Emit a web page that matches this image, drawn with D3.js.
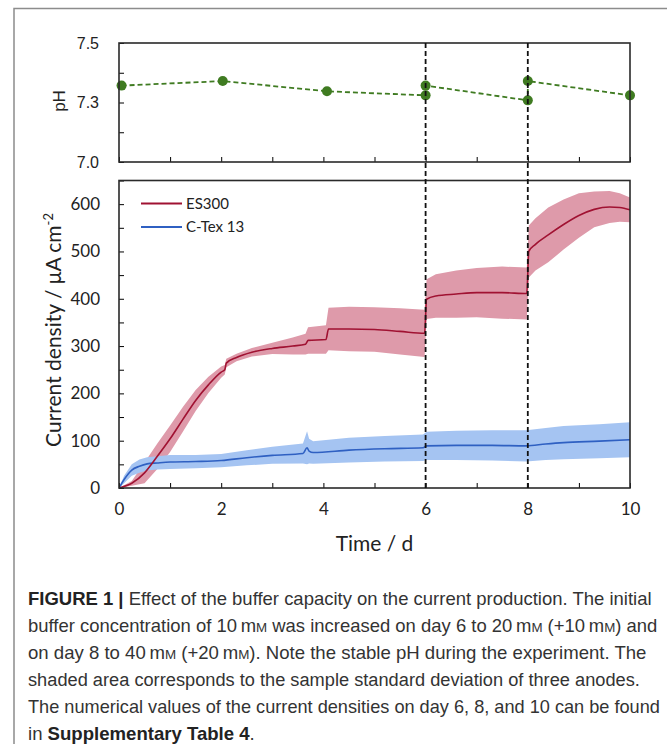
<!DOCTYPE html>
<html>
<head>
<meta charset="utf-8">
<script src="https://cdn.jsdelivr.net/npm/d3@7"></script>
<style>
body { margin: 0; background: #fff; }
</style>
</head>
<body>
<div id="vis"></div>
<script>
const FRAME_WIDTH = 667;
const FRAME_HEIGHT = 744;
const PLOT = {left: 119, right: 630};
const PH_BOX = {top: 43, bottom: 162};
const CUR_BOX = {top: 180.5, bottom: 488};

// pH measurements (day 6 and 8 have a value before and after the buffer addition)
const phDays = [0.05, 2.03, 4.07, 6, 6, 8, 8, 10];
const phValues = [7.321, 7.340, 7.297, 7.280, 7.321, 7.259, 7.340, 7.280];
const phTicks = [7.0, 7.125, 7.25, 7.375, 7.5];
const phTickLabels = ["7.0", "", "7.3", "", "7.5"];

// ES300 mean current density and standard deviation
const esDays = [0, 0.25, 0.5, 0.75, 1.0, 1.25, 1.5, 1.75, 2.0, 2.07, 2.1, 2.3, 2.6, 3.0, 3.4, 3.65, 3.7, 4.05, 4.1, 4.5, 5.0, 5.5, 5.98, 6.02, 6.2, 6.6, 7.0, 7.5, 7.98, 8.02, 8.15, 8.4, 8.7, 9.0, 9.3, 9.6, 9.8, 10];
const esMean = [0, 10, 32, 67, 104, 145, 185, 218, 245, 250, 264, 276, 287, 295, 300, 304, 312, 314, 336, 336, 335, 331, 327, 399, 406, 410, 413, 413, 411, 500, 515, 535, 557, 576, 589, 594, 593, 588];
const esSd = [0, 5, 22, 27, 28, 26, 22, 17, 12, 10, 9, 8, 9, 12, 18, 22, 28, 30, 45, 47, 47, 49, 50, 42, 46, 50, 52, 55, 55, 55, 55, 58, 53, 47, 38, 34, 30, 26];

// C-Tex 13 mean current density and standard deviation
const ctDays = [0, 0.1, 0.25, 0.4, 0.55, 0.75, 1.0, 1.5, 2.0, 2.5, 3.0, 3.6, 3.68, 3.72, 3.8, 4.5, 5.2, 5.95, 6.02, 6.6, 7.3, 7.97, 8.35, 8.7, 9.4, 10];
const ctMean = [0, 18, 38, 46, 51, 53, 55, 56, 58, 64, 69, 73, 85, 78, 75, 80, 83, 85, 89, 90, 90, 89, 93, 96, 99, 102];
const ctSd = [0, 8, 12, 14, 14, 14, 15, 14, 14, 16, 18, 21, 35, 26, 24, 26, 27, 28, 30, 31, 32, 33, 34, 35, 36, 37];

const bufferDays = [6, 8];
const dayTicks = d3.range(0, 11, 1);
const currentTicks = d3.range(0, 651, 50);
const seriesNames = ["ES300", "C-Tex 13"];
const seriesColors = ["#a01232", "#2f60c2"];
const bandColors = ["#de9aaa", "#a5c4f2"];

const SVG = d3.select("#vis")
	.append("svg")
		.attr("width", FRAME_WIDTH)
		.attr("height", FRAME_HEIGHT);

// outer gray frame (cut at the right and bottom)
SVG.append("path")
	.attr("d", "M14,744 L14,8.5 L667,8.5")
	.attr("fill", "none")
	.attr("stroke", "#8c8c8c")
	.attr("stroke-width", 1.5);

const X_SCALE = d3.scaleLinear().domain([0, 10]).range([PLOT.left, PLOT.right]);
const Y_PH = d3.scaleLinear().domain([7.0, 7.5]).range([PH_BOX.bottom, PH_BOX.top]);
const Y_CUR = d3.scaleLinear().domain([0, 650]).range([CUR_BOX.bottom, CUR_BOX.top]);

//---------- pH panel ----------
const PH = SVG.append("g");

PH.append("g")
	.attr("transform", "translate(" + PLOT.left + ",0)")
	.call(d3.axisLeft(Y_PH).tickValues(phTicks).tickSize(-5).tickPadding(20)
		.tickFormat((d, i) => phTickLabels[i]))
	.call(g => g.select(".domain").remove())
	.call(g => g.selectAll("text")
		.attr("font-family", "'Liberation Sans', Arial, sans-serif")
		.attr("font-size", 16)
		.attr("fill", "#222"));

PH.append("g")
	.attr("transform", "translate(0," + PH_BOX.bottom + ")")
	.call(d3.axisBottom(X_SCALE).tickValues(dayTicks).tickSize(-5).tickFormat(""))
	.call(g => g.select(".domain").remove());

PH.append("text")
	.attr("transform", "translate(65,101) rotate(-90)")
	.attr("text-anchor", "middle")
	.attr("font-family", "'Liberation Sans', Arial, sans-serif")
	.attr("font-size", 17)
	.attr("fill", "#222")
	.text("pH");

const phLine = d3.line()
	.x((d, i) => X_SCALE(phDays[i]))
	.y((d) => Y_PH(d));

PH.append("path")
	.attr("d", phLine(phValues))
	.attr("fill", "none")
	.attr("stroke", "#3f7b21")
	.attr("stroke-width", 1.8)
	.attr("stroke-dasharray", "5,3");

PH.selectAll(".ph-point")
	.data(phValues)
	.enter()
	.append("circle")
		.attr("class", "ph-point")
		.attr("cx", (d, i) => X_SCALE(phDays[i]))
		.attr("cy", (d) => Y_PH(d))
		.attr("r", 5)
		.attr("fill", "#3f7b21");

//---------- current density panel ----------
const CUR = SVG.append("g");

SVG.append("clipPath")
	.attr("id", "curClip")
	.append("rect")
		.attr("x", PLOT.left)
		.attr("y", CUR_BOX.top)
		.attr("width", PLOT.right - PLOT.left)
		.attr("height", CUR_BOX.bottom - CUR_BOX.top);

const series = [
	{days: esDays, mean: esMean, sd: esSd},
	{days: ctDays, mean: ctMean, sd: ctSd}
];

const band = d3.area()
	.x((d) => X_SCALE(d.t))
	.y0((d) => Y_CUR(d.m - d.s))
	.y1((d) => Y_CUR(d.m + d.s));

const meanLine = d3.line()
	.x((d) => X_SCALE(d.t))
	.y((d) => Y_CUR(d.m))
	.curve(d3.curveMonotoneX);

const rows = series.map((s) => s.days.map((t, i) => ({t: t, m: s.mean[i], s: s.sd[i]})));

const PLOTTED = CUR.append("g").attr("clip-path", "url(#curClip)");

PLOTTED.selectAll(".band")
	.data(rows)
	.enter()
	.append("path")
		.attr("class", "band")
		.attr("d", (d) => band(d))
		.attr("fill", (d, i) => bandColors[i]);

PLOTTED.selectAll(".mean")
	.data(rows.slice().reverse())
	.enter()
	.append("path")
		.attr("class", "mean")
		.attr("d", (d) => meanLine(d))
		.attr("fill", "none")
		.attr("stroke", (d, i) => seriesColors[1 - i])
		.attr("stroke-width", 1.6);

CUR.append("g")
	.attr("transform", "translate(" + PLOT.left + ",0)")
	.call(d3.axisLeft(Y_CUR).tickValues(currentTicks).tickSize(-5).tickPadding(19)
		.tickFormat((d) => d % 100 === 0 ? d : ""))
	.call(g => g.select(".domain").remove())
	.call(g => g.selectAll("text")
		.attr("font-family", "Lato, 'Open Sans', sans-serif")
		.attr("font-size", 17)
		.attr("fill", "#222"));

CUR.append("g")
	.attr("transform", "translate(0," + CUR_BOX.bottom + ")")
	.call(d3.axisBottom(X_SCALE).tickValues(dayTicks).tickSize(-5).tickPadding(15)
		.tickFormat((d) => d % 2 === 0 ? d : ""))
	.call(g => g.select(".domain").remove())
	.call(g => g.selectAll("text")
		.attr("font-family", "Lato, 'Open Sans', sans-serif")
		.attr("font-size", 17)
		.attr("fill", "#222"));

CUR.append("text")
	.attr("x", X_SCALE(5))
	.attr("y", 551)
	.attr("text-anchor", "middle")
	.attr("font-family", "Lato, 'Open Sans', sans-serif")
	.attr("font-size", 21)
	.attr("fill", "#222")
	.text("Time / d");

const yTitle = CUR.append("text")
	.attr("transform", "translate(61,330) rotate(-90)")
	.attr("text-anchor", "middle")
	.attr("font-family", "Lato, 'Open Sans', sans-serif")
	.attr("font-size", 21)
	.attr("fill", "#222");
yTitle.append("tspan").text("Current density / \u03bcA cm");
yTitle.append("tspan").attr("dy", -8).attr("font-size", 13).text("-2");

// legend
const LEGEND = CUR.selectAll(".legend")
	.data(seriesNames)
	.enter()
	.append("g")
		.attr("class", "legend")
		.attr("transform", (d, i) => "translate(141," + (203.5 + i * 23.5) + ")");

LEGEND.append("line")
	.attr("x1", 0)
	.attr("x2", 41)
	.attr("stroke", (d, i) => seriesColors[i])
	.attr("stroke-width", 2);

LEGEND.append("text")
	.attr("x", 45)
	.attr("dy", "0.35em")
	.attr("font-family", "Lato, 'Open Sans', sans-serif")
	.attr("font-size", 15)
	.attr("fill", "#222")
	.text((d) => d);

// panel borders
[PH_BOX, CUR_BOX].forEach((b) => {
	SVG.append("rect")
		.attr("x", PLOT.left)
		.attr("y", b.top)
		.attr("width", PLOT.right - PLOT.left)
		.attr("height", b.bottom - b.top)
		.attr("fill", "none")
		.attr("stroke", "#2a2a2a")
		.attr("stroke-width", 1.6);
});

// buffer additions, dashed through both panels
SVG.selectAll(".buffer")
	.data(bufferDays)
	.enter()
	.append("line")
		.attr("class", "buffer")
		.attr("x1", (d) => X_SCALE(d))
		.attr("x2", (d) => X_SCALE(d))
		.attr("y1", PH_BOX.top)
		.attr("y2", CUR_BOX.bottom)
		.attr("stroke", "#111")
		.attr("stroke-width", 1.8)
		.attr("stroke-dasharray", "5,3");

// caption
const captionLines = [
	[["FIGURE 1 |", true], [" Effect of the buffer capacity on the current production. The initial"]],
	[["buffer concentration of 10\u2009m"], ["M", false, true], [" was increased on day 6 to 20\u2009m"], ["M", false, true], [" (+10\u2009m"], ["M", false, true], [") and"]],
	[["on day 8 to 40\u2009m"], ["M", false, true], [" (+20\u2009m"], ["M", false, true], ["). Note the stable pH during the experiment. The"]],
	[["shaded area corresponds to the sample standard deviation of three anodes."]],
	[["The numerical values of the current densities on day 6, 8, and 10 can be found"]],
	[["in "], ["Supplementary Table 4", true], ["."]]
];
const captionWidths = [624, 630, 619, 612, 632, 227];

captionLines.forEach((parts, i) => {
	const t = SVG.append("text")
		.attr("font-family", "'Liberation Sans', Arial, sans-serif")
		.attr("font-size", 18)
		.attr("fill", "#333");
	parts.forEach((p) => {
		t.append("tspan")
			.attr("font-weight", p[1] ? "bold" : null)
			.attr("fill", p[1] ? "#222" : null)
			.attr("font-size", p[2] ? 13 : null)
			.text(p[0]);
	});
	const w = t.node().getComputedTextLength();
	t.attr("transform", "translate(28," + (605 + i * 27) + ") scale(" + (captionWidths[i] / w) + ",1)");
});
</script>
</body>
</html>
